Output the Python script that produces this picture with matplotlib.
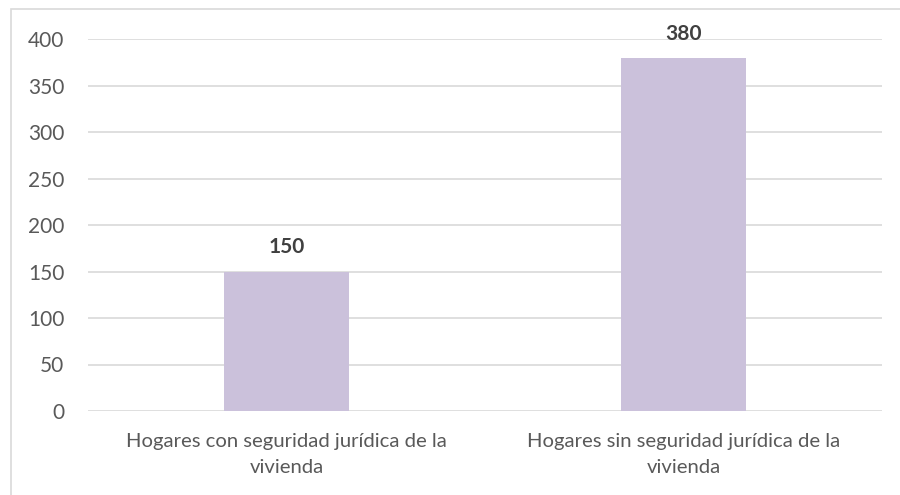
import matplotlib
matplotlib.use("Agg")
import matplotlib.pyplot as plt
from matplotlib.patches import Rectangle

# Veriler
categories = ["Hogares con seguridad jurídica de la\nvivienda",
              "Hogares sin seguridad jurídica de la\nvivienda"]
values = [150, 380]
yticks = [0, 50, 100, 150, 200, 250, 300, 350, 400]

BAR_COLOR = "#CBC1DB"
GRID_COLOR = "#D9D9D9"
TEXT_COLOR = "#595959"

plt.rcParams["font.family"] = ["Lato", "DejaVu Sans"]

fig = plt.figure(figsize=(9, 4.95), dpi=100)
ax = fig.add_axes([88 / 900, 1 - 411 / 495, 794 / 900, 372 / 495])

x = list(range(len(categories)))
bars = ax.bar(x, values, width=0.315, color=BAR_COLOR, zorder=2)

for b, v in zip(bars, values):
    ax.annotate(str(v), (b.get_x() + b.get_width() / 2, v),
                xytext=(0, 13), textcoords="offset points",
                ha="center", va="baseline", fontsize=15, fontweight="bold",
                color="#404040")

ax.set_xlim(-0.5, 1.5)
ax.set_ylim(0, 400)
ax.set_yticks(yticks)
ax.set_xticks(x)
ax.set_xticklabels(categories, fontsize=14.6, color=TEXT_COLOR, linespacing=1.65)
ax.tick_params(axis="y", labelsize=15, labelcolor=TEXT_COLOR, length=0, pad=17)
ax.tick_params(axis="x", length=0, pad=16)
ax.grid(axis="y", color=GRID_COLOR, lw=1.2, zorder=0)
ax.set_axisbelow(True)
for s in ax.spines.values():
    s.set_visible(False)

# Dış çerçeve
fig.patches.append(Rectangle((11 / 900, -0.05), 1.0, 1 - 9 / 495 + 0.05,
                             transform=fig.transFigure, fill=False,
                             edgecolor="#D9D9D9", lw=1.2))

fig.savefig("out.png", dpi=100)
